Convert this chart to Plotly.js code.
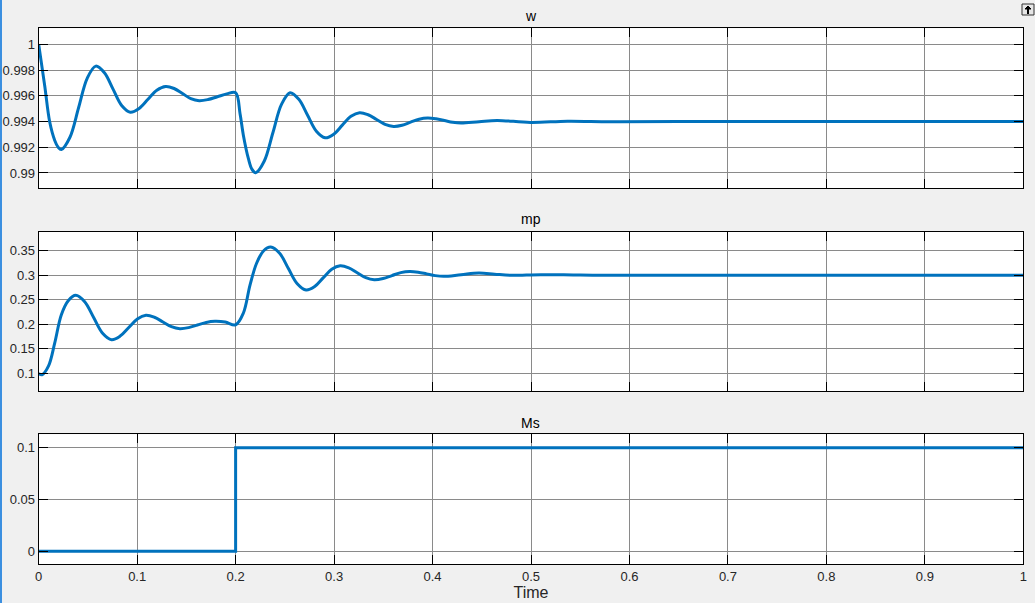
<!DOCTYPE html>
<html>
<head>
<meta charset="utf-8">
<script src="https://cdn.plot.ly/plotly-3.0.1.min.js"></script>
<style>
html,body{margin:0;padding:0;background:#f0f0f0;}
#chart{width:1035px;height:603px;}
</style>
</head>
<body>
<div id="chart"></div>
<script>
// ---- data ----
const wTime = [0, 0.0061, 0.0112, 0.0163, 0.0197, 0.023, 0.03175, 0.0405, 0.04925, 0.058,
  0.06675, 0.0755, 0.08425, 0.093, 0.102, 0.111, 0.120, 0.129, 0.1375, 0.146, 0.1545, 0.163,
  0.172, 0.1815, 0.191, 0.2,
  0.2045, 0.2079, 0.213, 0.2165, 0.2204, 0.22913, 0.23785, 0.24658, 0.2553,
  0.2642, 0.2731, 0.282, 0.2909, 0.29965, 0.3084, 0.31715, 0.3259,
  0.33453, 0.34315, 0.35178, 0.3604, 0.36905, 0.3777, 0.38635, 0.395,
  0.4035, 0.412, 0.4205, 0.429, 0.4473, 0.4656, 0.4995, 0.537, 0.58, 0.65, 1.0];
const wValue = [1.0, 0.99679, 0.99396, 0.99253, 0.99201, 0.99183, 0.99278, 0.99507, 0.99736, 0.99831,
  0.99779, 0.99652, 0.99525, 0.99473, 0.99502, 0.99573, 0.99644, 0.99673, 0.99657, 0.99618, 0.99578, 0.99562,
  0.99571, 0.99593, 0.99615, 0.99624,
  0.99461, 0.99292, 0.99111, 0.99030, 0.99002, 0.99093, 0.99313, 0.99533, 0.99624,
  0.99573, 0.99449, 0.99325, 0.99274, 0.99302, 0.99372, 0.99441, 0.99469,
  0.99453, 0.99416, 0.99378, 0.99362, 0.99371, 0.99395, 0.99418, 0.99427,
  0.99421, 0.99408, 0.99394, 0.99388, 0.99399, 0.99409, 0.99393, 0.99403, 0.99399, 0.994, 0.994];

const mpTime = [0, 0.0034, 0.010, 0.0163, 0.023, 0.030, 0.0376,
  0.0467, 0.0558, 0.0649, 0.074, 0.0827, 0.0915, 0.1002, 0.1089,
  0.1175, 0.1262, 0.1348, 0.1434, 0.1523, 0.1612, 0.1701, 0.179, 0.1895, 0.2,
  0.2079, 0.2146, 0.2214, 0.2285, 0.2357,
  0.2447, 0.2536, 0.2626, 0.2716, 0.2803, 0.2889, 0.2976, 0.3062,
  0.3149, 0.3235, 0.3322, 0.3408, 0.3498, 0.3588, 0.3677, 0.3767,
  0.3854, 0.394, 0.4027, 0.4113, 0.429, 0.447, 0.463, 0.479, 0.51, 0.55, 0.6, 1.0];
const mpValue = [0.100, 0.097, 0.115, 0.162, 0.2195, 0.248, 0.259,
  0.2458, 0.2138, 0.1818, 0.1686, 0.1759, 0.1935, 0.2110, 0.2183,
  0.2143, 0.2047, 0.1950, 0.1910, 0.1932, 0.1985, 0.2038, 0.2060, 0.2045, 0.199,
  0.223, 0.280, 0.325, 0.350, 0.3575,
  0.3447, 0.3137, 0.2826, 0.2698, 0.2770, 0.2946, 0.3122, 0.3194,
  0.3152, 0.3051, 0.2950, 0.2908, 0.2933, 0.2993, 0.3053, 0.3078,
  0.3063, 0.3028, 0.2992, 0.2977, 0.3011, 0.3045, 0.3022, 0.2998, 0.3012, 0.3003, 0.3, 0.3];

const msTime = [0, 0.2, 1.0];
const msValue = [0, 0.1, 0.1];

const subplotTitles = ['w', 'mp', 'Ms'];
const xTicks = [0, 0.1, 0.2, 0.3, 0.4, 0.5, 0.6, 0.7, 0.8, 0.9, 1];
const wTicks = [0.99, 0.992, 0.994, 0.996, 0.998, 1];
const mpTicks = [0.1, 0.15, 0.2, 0.25, 0.3, 0.35];
const msTicks = [0, 0.05, 0.1];
const xLabel = 'Time';

// ---- styling ----
const lineColor = '#0072BD';
const gridColor = '#8a8a8a';
const tickFont = {family: 'Liberation Sans, Arial, sans-serif', size: 13, color: '#262626'};
const xDomain = [38.7/1035, 1023.3/1035];

function xAxis(anchor, showLabels) {
  return {
    domain: xDomain, anchor: anchor, range: [0, 1], tickvals: xTicks,
    ticktext: xTicks.map(String),
    showticklabels: showLabels, ticks: 'inside', ticklen: 9, tickcolor: '#000', tickwidth: 1,
    showline: true, linecolor: '#000', linewidth: 1, mirror: 'allticks',
    showgrid: true, gridcolor: gridColor, gridwidth: 1, zeroline: false,
    tickfont: tickFont, fixedrange: true
  };
}
function yAxis(anchor, domain, range, ticks) {
  return {
    domain: domain, anchor: anchor, range: range, tickvals: ticks,
    ticktext: ticks.map(String),
    ticks: 'inside', ticklen: 9, tickcolor: '#000', tickwidth: 1,
    showline: true, linecolor: '#000', linewidth: 1, mirror: 'allticks',
    showgrid: true, gridcolor: gridColor, gridwidth: 1, zeroline: false,
    tickfont: tickFont, ticklabelstandoff: 0, fixedrange: true
  };
}

const traces = [
  {x: wTime, y: wValue, xaxis: 'x', yaxis: 'y', type: 'scatter', mode: 'lines',
   line: {color: lineColor, width: 3, shape: 'spline', smoothing: 1}},
  {x: mpTime, y: mpValue, xaxis: 'x2', yaxis: 'y2', type: 'scatter', mode: 'lines',
   line: {color: lineColor, width: 3, shape: 'spline', smoothing: 1}},
  {x: msTime, y: msValue, xaxis: 'x3', yaxis: 'y3', type: 'scatter', mode: 'lines',
   line: {color: lineColor, width: 3, shape: 'hv'}}
];

const titleY = [1 - 16/603, 1 - 219/603, 1 - 423/603];
const layout = {
  width: 1035, height: 603,
  margin: {l: 0, r: 0, t: 0, b: 0},
  paper_bgcolor: '#f0f0f0', plot_bgcolor: '#ffffff',
  showlegend: false,
  xaxis: xAxis('y', false),
  yaxis: yAxis('x', [414.7/603, 574.7/603], [0.98881, 1.00125], wTicks),
  xaxis2: xAxis('y2', false),
  yaxis2: yAxis('x2', [212/603, 371.3/603], [0.0639, 0.3888], mpTicks),
  xaxis3: Object.assign(xAxis('y3', true), {title: {text: xLabel, font: {family: 'Liberation Sans, Arial, sans-serif', size: 16, color: '#262626'}, standoff: 4}}),
  yaxis3: yAxis('x3', [39/603, 168.7/603], [-0.01226, 0.1129], msTicks),
  annotations: subplotTitles.map((t, i) => ({
    text: t, xref: 'paper', yref: 'paper', x: (xDomain[0] + xDomain[1]) / 2, y: titleY[i],
    xanchor: 'center', yanchor: 'middle', showarrow: false,
    font: {family: 'Liberation Sans, Arial, sans-serif', size: 14, color: '#000'}
  })),
  shapes: [
    {type: 'line', xref: 'paper', yref: 'paper', x0: 1/1035, x1: 1/1035, y0: 0, y1: 1,
     line: {color: '#3b8fe0', width: 2}},
    {type: 'rect', xref: 'paper', yref: 'paper', x0: 1022/1035, x1: 1034/1035, y0: 1 - 15/603, y1: 1 - 4/603,
     line: {color: '#333', width: 1}, fillcolor: '#e6e6e6'},
    {type: 'path', xref: 'paper', yref: 'paper',
     path: 'M ' + (1028/1035) + ' ' + (1 - 6/603) + ' L ' + (1025/1035) + ' ' + (1 - 9/603) + ' L ' + (1031/1035) + ' ' + (1 - 9/603) + ' Z',
     fillcolor: '#000', line: {color: '#000', width: 1}},
    {type: 'line', xref: 'paper', yref: 'paper', x0: 1028/1035, x1: 1028/1035, y0: 1 - 9/603, y1: 1 - 14/603,
     line: {color: '#000', width: 2}}
  ]
};

Plotly.newPlot('chart', traces, layout, {displayModeBar: false, staticPlot: true});
</script>
</body>
</html>
